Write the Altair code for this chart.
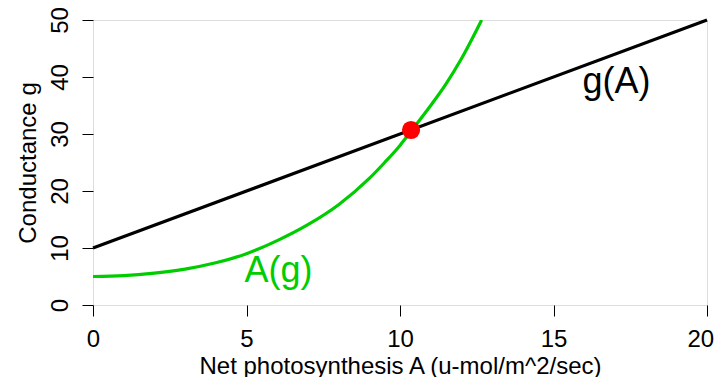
import altair as alt
import pandas as pd

# Data
line_A = [0, 20]
line_g = [10, 50]

curve_A = [0, 1, 2, 3, 4, 5, 6, 7, 8, 9, 9.5, 10, 10.36, 11, 11.5, 12, 12.66]
curve_g = [5.0, 5.15, 5.6, 6.3, 7.4, 9.0, 11.3, 14.1, 17.6, 22.2, 25.0, 28.0, 30.5,
           35.0, 38.8, 43.2, 50.0]

eq_A = [10.36]
eq_g = [30.7]

label_text = ["g(A)", "A(g)"]
label_A = [17.05, 6.04]
label_g = [37.2, 4.09]
label_color = ["#000000", "#00CD00"]

FONT = "Liberation Sans"

line_df = pd.DataFrame({"A": line_A, "g": line_g})
curve_df = pd.DataFrame({"A": curve_A, "g": curve_g})
eq_df = pd.DataFrame({"A": eq_A, "g": eq_g})
lab_df = pd.DataFrame({"A": label_A, "g": label_g, "t": label_text, "c": label_color})

xscale = alt.Scale(domain=[0, 20], nice=False, zero=False)
yscale = alt.Scale(domain=[0, 50], nice=False, zero=False)

xaxis = alt.Axis(
    values=[0, 5, 10, 15, 20], title="Net photosynthesis A (u-mol/m^2/sec)",
    grid=False, domain=False, tickColor="black", tickSize=11, tickWidth=1,
    labelFont=FONT, labelFontSize=24, labelColor="black", labelPadding=11,
    labelBaseline="top", labelFlush=True, labelFlushOffset=6.7, labelOverlap=False,
    titleFont=FONT, titleFontSize=24, titleFontWeight="normal", titleColor="black",
    titleBaseline="alphabetic", titleY=68,
)
yaxis = alt.Axis(
    values=[0, 10, 20, 30, 40, 50], title="Conductance g",
    grid=False, domain=False, tickColor="black", tickSize=11, tickWidth=1,
    labelFont=FONT, labelFontSize=24, labelColor="black", labelPadding=15,
    labelAngle=270, labelAlign="center", labelBaseline="alphabetic",
    labelFlush=False, labelOverlap=False,
    titleFont=FONT, titleFontSize=24, titleFontWeight="normal", titleColor="black",
    titleAngle=270, titleBaseline="alphabetic", titleX=-58, titleY=142.5,
    titleAlign="center",
)

base_x = alt.X("A:Q", scale=xscale, axis=xaxis)
base_y = alt.Y("g:Q", scale=yscale, axis=yaxis)

black_line = alt.Chart(line_df).mark_line(color="black", strokeWidth=3.2).encode(
    x=base_x, y=base_y
)
green_curve = alt.Chart(curve_df).mark_line(
    color="#00CD00", strokeWidth=3.2, interpolate="monotone", clip=True
).encode(x="A:Q", y="g:Q", order="A:Q")
red_dot = alt.Chart(eq_df).mark_point(
    filled=True, color="#FF0000", size=330, opacity=1, shape="circle"
).encode(x="A:Q", y="g:Q")
labels = alt.Chart(lab_df).mark_text(
    font=FONT, fontSize=36, align="center", baseline="alphabetic"
).encode(x="A:Q", y="g:Q", text="t:N", color=alt.Color("c:N", scale=None))

chart = alt.layer(black_line, green_curve, red_dot, labels).properties(
    width=614, height=285,
    autosize=alt.AutoSizeParams(type="none"),
    padding={"left": 85, "top": 12, "right": 7, "bottom": 72},
).configure_view(stroke="black", strokeWidth=1).configure(background="white")

chart.save("out.html", embed_options={"renderer": "svg", "actions": False})
